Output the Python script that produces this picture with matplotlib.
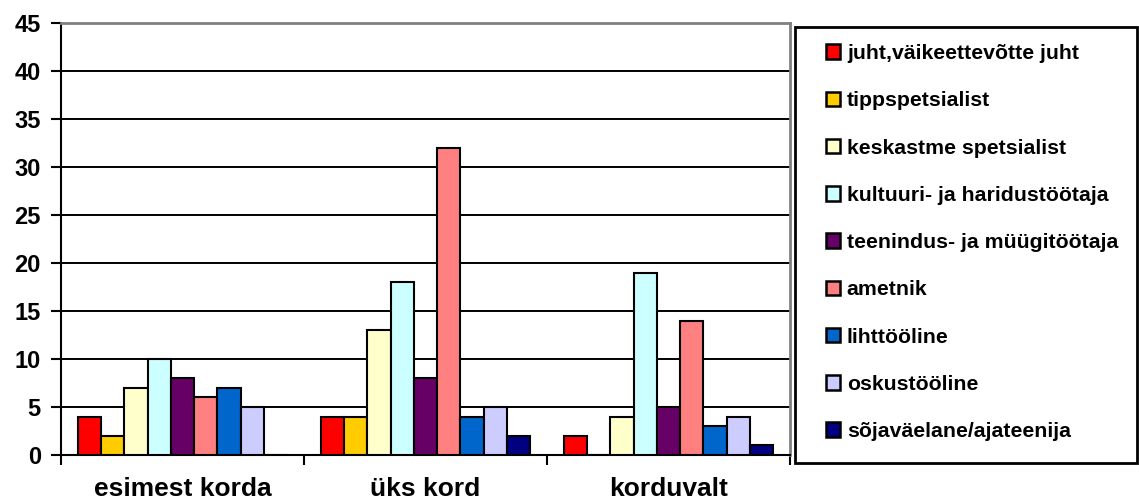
import matplotlib.pyplot as plt
import numpy as np
from matplotlib.patches import Patch, Rectangle

plt.rcParams['font.family'] = ['Liberation Sans', 'DejaVu Sans']
plt.rcParams['font.weight'] = 'bold'

groups = ['esimest korda', 'üks kord', 'korduvalt']
occupations = ['juht,väikeettevõtte juht', 'tippspetsialist', 'keskastme spetsialist',
               'kultuuri- ja haridustöötaja', 'teenindus- ja müügitöötaja', 'ametnik',
               'lihttööline', 'oskustööline', 'sõjaväelane/ajateenija']
colors = ['#FF0000', '#FFCC00', '#FFFFCC', '#CCFFFF', '#660066',
          '#FF8080', '#0066CC', '#CCCCFF', '#000080']

# counts per occupation, one value per group
juht = [4, 4, 2]
tipp = [2, 4, 0]
keskaste = [7, 13, 4]
kultuur = [10, 18, 19]
teenindus = [8, 8, 5]
ametnik = [6, 32, 14]
liht = [7, 4, 3]
oskus = [5, 5, 4]
sojavae = [0, 2, 1]
values = [juht, tipp, keskaste, kultuur, teenindus, ametnik, liht, oskus, sojavae]

W, H = 1139, 504
fig = plt.figure(figsize=(W / 100, H / 100), dpi=100)
ax = fig.add_axes([61 / W, 49 / H, (790 - 61) / W, (455 - 23) / H])

x = np.arange(len(groups))
w = 0.096
for i, (vals, col) in enumerate(zip(values, colors)):
    ax.bar(x + (i - 4) * w, vals, width=w, color=col, edgecolor='black',
           linewidth=1.5, zorder=3)

ax.set_xlim(-0.5, 2.5)
ax.set_ylim(0, 45)
ax.set_yticks(range(0, 46, 5))
ax.yaxis.grid(True, color='black', linewidth=1.4, zorder=0)
ax.set_axisbelow(True)

ax.set_xticks(x)
ax.set_xticklabels(groups, fontsize=19, fontweight='bold')
ax.set_xticks([-0.5, 0.5, 1.5, 2.5], minor=True)
ax.tick_params(axis='x', which='major', length=0, pad=16)
ax.tick_params(axis='x', which='minor', length=7, width=1.5, direction='out')
ax.tick_params(axis='y', length=7.5, width=1.5, pad=7, labelsize=17)

for s in ['left', 'bottom']:
    ax.spines[s].set_linewidth(1.5)
    ax.spines[s].set_color('black')
for s in ['top', 'right']:
    ax.spines[s].set_linewidth(2)
    ax.spines[s].set_color('#808080')

# legend box on the right
fig.patches.append(Rectangle((795 / W, 1 - 463 / H), (1137 - 795) / W, (463 - 27) / H,
                             transform=fig.transFigure, fill=False,
                             edgecolor='black', linewidth=2))
handles = [Patch(facecolor=c, edgecolor='black', linewidth=1.8) for c in colors]
fig.legend(handles, occupations, loc='upper left',
           bbox_to_anchor=(826 / W, 1 - 44 / H), frameon=False,
           prop={'size': 15.3, 'weight': 'bold'},
           handlelength=0.68, handleheight=0.68, handletextpad=0.3,
           labelspacing=1.33, borderpad=0, borderaxespad=0)

fig.savefig('out.png', dpi=100)
